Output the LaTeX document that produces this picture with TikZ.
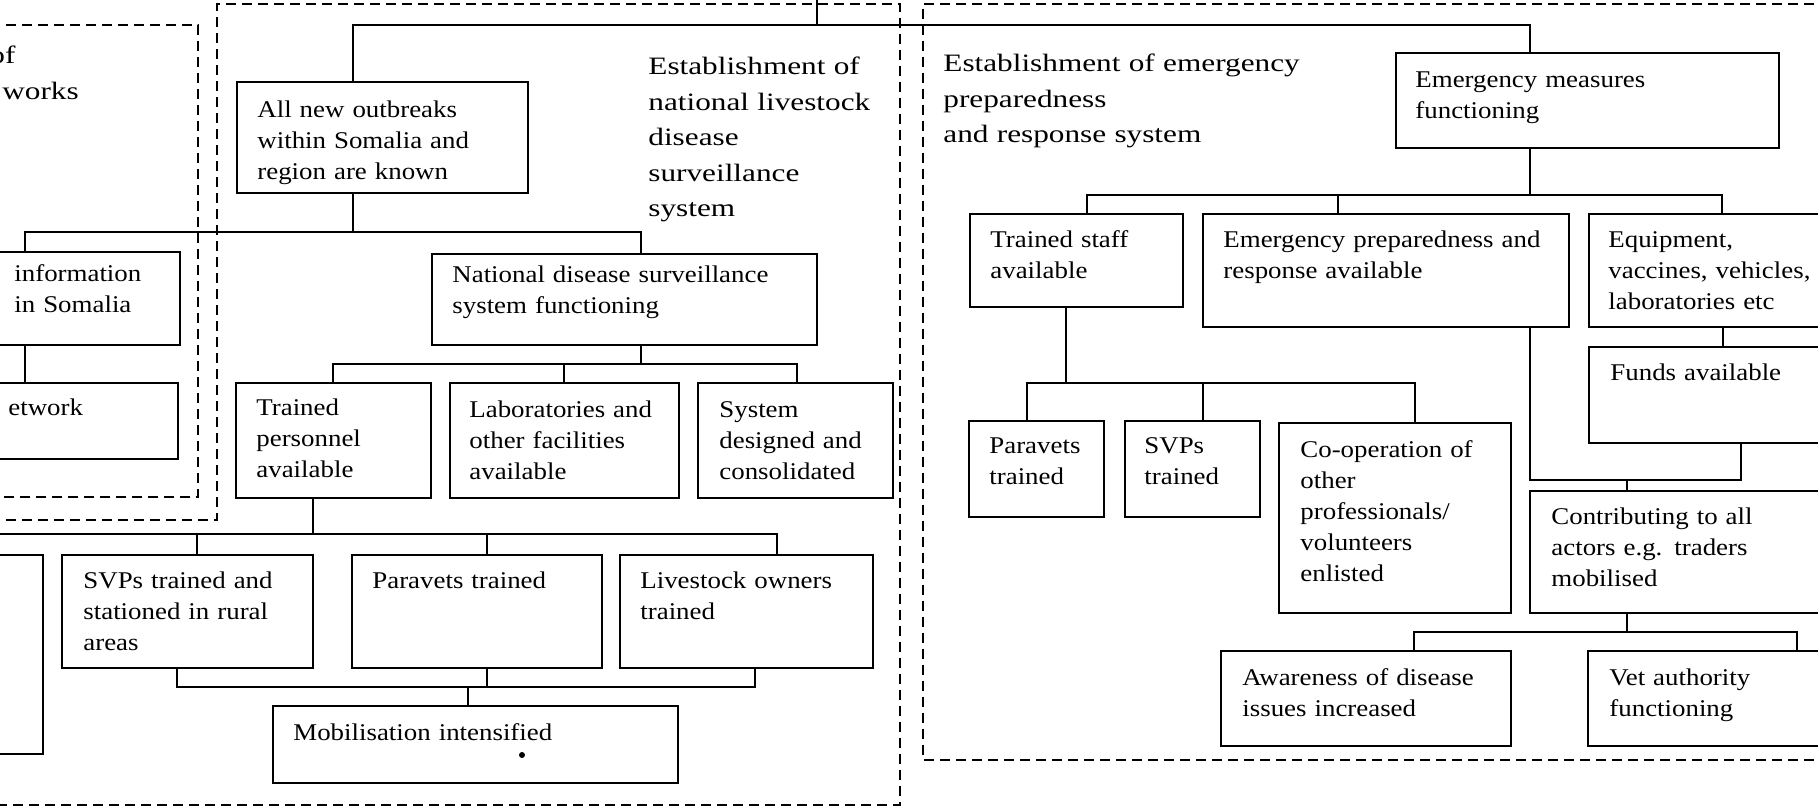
\documentclass[tikz,border=0pt]{standalone}
\usepackage{fontspec}
\setmainfont{Liberation Serif}[FakeStretch=1.12]
\newfontfamily\ttlfont{Liberation Serif}[FakeStretch=1.25]
\usepackage{tikz}
\usetikzlibrary{fit}

\tikzset{
  ofbox/.style={draw, line width=1pt, inner sep=0pt, rectangle},
  oftext/.style={anchor=base west, inner sep=0pt, text width=230pt, align=left,
    font=\fontsize{12}{15.5}\selectfont},
  ttl/.style={anchor=base west, inner sep=0pt, text width=230pt, align=left,
    font=\ttlfont\fontsize{12.5}{17.75}\selectfont},
  link/.style={line width=0.8pt},
  bound/.style={dash pattern=on 5pt off 3pt, line width=0.9pt}
}

\begin{document}
\begin{tikzpicture}[x=0.5pt, y=-0.5pt]
    \useasboundingbox (0,0) rectangle (1818,807);
    \clip (0,0) rectangle (1818,807);
    \fill[white] (0,0) rectangle (1818,807);
    % Dashed outlines
    \draw[bound] (-10,25) -- (198,25) -- (198,497) -- (-10,497);
    \draw[bound] (-10,520) -- (217,520) -- (217,4) -- (900,4) -- (900,805) -- (-10,805);
    \draw[bound] (1830,4) -- (923,4) -- (923,760) -- (1830,760);
    % Titles
    \node[ttl] (ttlnet) at (-11,64) {of\\\hspace*{6.5pt}works};
    \node[ttl] (ttlnat) at (648,75) {Establishment of\\national livestock\\disease\\surveillance\\system};
    \node[ttl] (ttlemg) at (943,72) {Establishment of emergency\\preparedness\\and response system};
    % Left boxes (cut off)
    \node[ofbox, fit={(-20,252) (180,345)}] (info) {};
    \node[oftext] (info-t) at (14,282) {information\\in Somalia};
    \node[ofbox, fit={(-20,383) (178,459)}] (netw) {};
    \node[oftext] (netw-t) at (8,415) {etwork};
    \node[ofbox, fit={(-20,555) (43,754)}] (leftbot) {};
    % Surveillance boxes
    \node[ofbox, fit={(237,82) (528,193)}] (allnew) {};
    \node[oftext] (allnew-t) at (257,118) {All new outbreaks\\within Somalia and\\region are known};
    \node[ofbox, fit={(432,254) (817,345)}] (natl) {};
    \node[oftext] (natl-t) at (452,283) {National disease surveillance\\system functioning};
    \node[ofbox, fit={(236,383) (431,498)}] (trpers) {};
    \node[oftext] (trpers-t) at (256,415) {Trained\\personnel\\available};
    \node[ofbox, fit={(450,383) (679,498)}] (labs) {};
    \node[oftext] (labs-t) at (469,417) {Laboratories and\\other facilities\\available};
    \node[ofbox, fit={(698,383) (893,498)}] (sysd) {};
    \node[oftext] (sysd-t) at (719,417) {System\\designed and\\consolidated};
    \node[ofbox, fit={(62,555) (313,668)}] (svps) {};
    \node[oftext] (svps-t) at (83,588) {SVPs trained and\\stationed in rural\\areas};
    \node[ofbox, fit={(352,555) (602,668)}] (paravets) {};
    \node[oftext] (paravets-t) at (372,588) {Paravets trained};
    \node[ofbox, fit={(620,555) (873,668)}] (lvown) {};
    \node[oftext] (lvown-t) at (640,588) {Livestock owners\\trained};
    \node[ofbox, fit={(273,706) (678,783)}] (mobil) {};
    \node[oftext] (mobil-t) at (293,740) {Mobilisation intensified};
    \fill (522,755) circle (3);
    % Emergency boxes
    \node[ofbox, fit={(1396,53) (1779,148)}] (emeas) {};
    \node[oftext] (emeas-t) at (1415,88) {Emergency measures\\functioning};
    \node[ofbox, fit={(970,214) (1183,307)}] (trstaff) {};
    \node[oftext] (trstaff-t) at (990,248) {Trained staff\\available};
    \node[ofbox, fit={(1203,214) (1569,327)}] (epr) {};
    \node[oftext] (epr-t) at (1223,248) {Emergency preparedness and\\response available};
    \node[ofbox, fit={(1589,214) (1830,327)}] (equip) {};
    \node[oftext] (equip-t) at (1608,248) {Equipment,\\vaccines, vehicles,\\laboratories etc};
    \node[ofbox, fit={(1589,347) (1830,443)}] (funds) {};
    \node[oftext] (funds-t) at (1610,380) {Funds available};
    \node[ofbox, fit={(969,421) (1104,517)}] (paravr) {};
    \node[oftext] (paravr-t) at (989,453) {Paravets\\trained};
    \node[ofbox, fit={(1125,421) (1260,517)}] (svpr) {};
    \node[oftext] (svpr-t) at (1144,453) {SVPs\\trained};
    \node[ofbox, fit={(1279,423) (1511,613)}] (coop) {};
    \node[oftext] (coop-t) at (1300,457) {Co-operation of\\other\\professionals/\\volunteers\\enlisted};
    \node[ofbox, fit={(1530,491) (1830,613)}] (contrib) {};
    \node[oftext] (contrib-t) at (1551,524) {Contributing to all\\actors e.g. traders\\mobilised};
    \node[ofbox, fit={(1221,651) (1511,746)}] (aware) {};
    \node[oftext] (aware-t) at (1242,685) {Awareness of disease\\issues increased};
    \node[ofbox, fit={(1588,651) (1830,746)}] (vet) {};
    \node[oftext] (vet-t) at (1609,685) {Vet authority\\functioning};
    % Top links
    \draw[link] (353,0 |- allnew.north) |- (1530,25) -- (1530,0 |- emeas.north);
    \draw[link] (817,25) -- (817,0);
    % Surveillance links
    \draw[link] (353,0 |- allnew.south) -- (353,232);
    \draw[link] (25,0 |- info.north) |- (641,232) -- (641,0 |- natl.north);
    \draw[link] (25,0 |- info.south) -- (25,0 |- netw.north);
    \draw[link] (641,0 |- natl.south) -- (641,364);
    \draw[link] (333,0 |- trpers.north) |- (797,364) -- (797,0 |- sysd.north);
    \draw[link] (564,364) -- (564,0 |- labs.north);
    \draw[link] (313,0 |- trpers.south) -- (313,534);
    \draw[link] (-10,534) -| (777,0 |- lvown.north);
    \draw[link] (197,534) -- (197,0 |- svps.north);
    \draw[link] (487,534) -- (487,0 |- paravets.north);
    \draw[link] (177,0 |- svps.south) |- (755,687) -- (755,0 |- lvown.south);
    \draw[link] (487,0 |- paravets.south) -- (487,687);
    \draw[link] (468,687) -- (468,0 |- mobil.north);
    % Emergency links
    \draw[link] (1530,0 |- emeas.south) -- (1530,195);
    \draw[link] (1087,0 |- trstaff.north) |- (1722,195) -- (1722,0 |- equip.north);
    \draw[link] (1338,195) -- (1338,0 |- epr.north);
    \draw[link] (1723,0 |- equip.south) -- (1723,0 |- funds.north);
    \draw[link] (1066,0 |- trstaff.south) -- (1066,383);
    \draw[link] (1027,0 |- paravr.north) |- (1415,383) -- (1415,0 |- coop.north);
    \draw[link] (1203,383) -- (1203,0 |- svpr.north);
    \draw[link] (1530,0 |- epr.south) |- (1741,480) -- (1741,0 |- funds.south);
    \draw[link] (1627,480) -- (1627,0 |- contrib.north);
    \draw[link] (1627,0 |- contrib.south) -- (1627,632);
    \draw[link] (1414,0 |- aware.north) |- (1797,632) -- (1797,0 |- vet.north);
\end{tikzpicture}
\end{document}
